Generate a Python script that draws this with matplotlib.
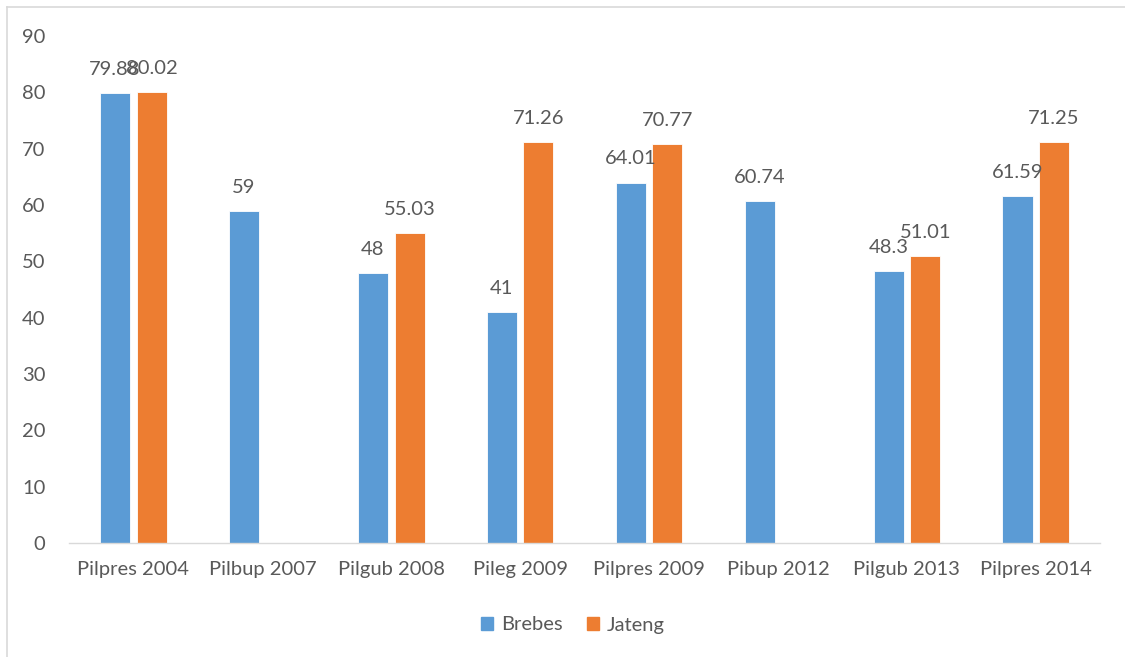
import matplotlib
matplotlib.use("Agg")
import matplotlib.pyplot as plt
import numpy as np
from matplotlib.lines import Line2D

plt.rcParams['font.family'] = ['Lato', 'DejaVu Sans']

# data
categories = ["Pilpres 2004", "Pilbup 2007", "Pilgub 2008", "Pileg 2009",
              "Pilpres 2009", "Pibup 2012", "Pilgub 2013", "Pilpres 2014"]
brebes = [79.88, 59, 48, 41, 64.01, 60.74, 48.3, 61.59]
jateng = [80.02, None, 55.03, 71.26, 70.77, None, 51.01, 71.25]
yticks = list(range(0, 100, 10))

blue = "#5B9BD5"
orange = "#ED7D31"
txt = "#595959"
fs = 14.5

fig = plt.figure(figsize=(11.25, 6.57), dpi=100)
ax = fig.add_axes([0.0613, 0.1735, 0.9167, 0.7715])

x = np.arange(len(categories))
w = 0.233
off = 0.142

def lab(v):
    return ("%g" % v)

for i, v in enumerate(brebes):
    if v is None:
        continue
    ax.bar(x[i] - off, v, w, color=blue, edgecolor="white", linewidth=0.6)
    ax.annotate(lab(v), (x[i] - off, v), xytext=(0, 17), textcoords="offset points",
                ha="center", va="center", fontsize=fs, color=txt)
for i, v in enumerate(jateng):
    if v is None:
        continue
    ax.bar(x[i] + off, v, w, color=orange, edgecolor="white", linewidth=0.6)
    ax.annotate(lab(v), (x[i] + off, v), xytext=(0, 17), textcoords="offset points",
                ha="center", va="center", fontsize=fs, color=txt)

ax.set_xlim(-0.5, len(categories) - 0.5)
ax.set_ylim(0, 90)
ax.set_yticks(yticks)
ax.set_xticks(x)
ax.set_xticklabels(categories)
ax.tick_params(axis="both", length=0, labelsize=fs, labelcolor=txt)
ax.tick_params(axis="y", pad=17)
ax.tick_params(axis="x", pad=13)
for s in ["top", "right", "left"]:
    ax.spines[s].set_visible(False)
ax.spines["bottom"].set_color("#D9D9D9")
ax.spines["bottom"].set_linewidth(1)

handles = [plt.Rectangle((0, 0), 1, 1, color=blue), plt.Rectangle((0, 0), 1, 1, color=orange)]
fig.legend(handles, ["Brebes", "Jateng"], loc="center", bbox_to_anchor=(573 / 1125, 1 - 625 / 657),
           ncol=2, frameon=False, fontsize=fs, handlelength=0.6, handleheight=0.6,
           handletextpad=0.4, columnspacing=1.2, labelcolor=txt)

# chart border
fig.add_artist(Line2D([7 / 1125, 7 / 1125], [0, 1 - 7 / 657], transform=fig.transFigure,
                      color="#D9D9D9", linewidth=1.2))
fig.add_artist(Line2D([7 / 1125, 1], [1 - 7 / 657, 1 - 7 / 657], transform=fig.transFigure,
                      color="#D9D9D9", linewidth=1.2))

fig.savefig("out.png", dpi=100)
